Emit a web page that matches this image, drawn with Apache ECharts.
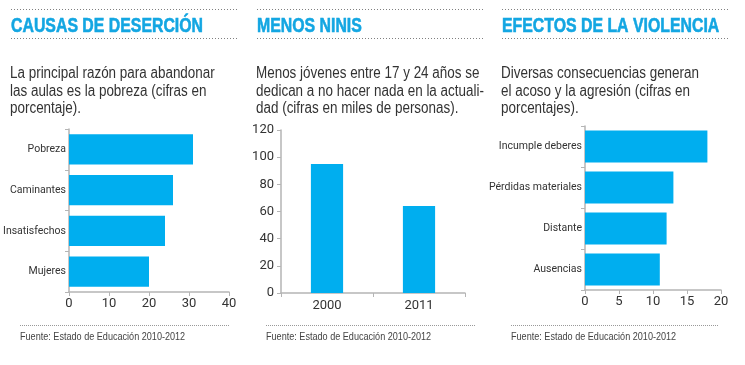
<!DOCTYPE html>
<html><head><meta charset="utf-8">
<script src="https://cdn.jsdelivr.net/npm/echarts@6/dist/echarts.min.js"></script>
<style>html,body{margin:0;padding:0;background:#fff}#c{width:745px;height:365px}</style>
</head><body><div id="c"></div>
<script>
const causasCats = ['Pobreza', 'Caminantes', 'Insatisfechos', 'Mujeres'];
const causasVals = [31, 26, 24, 20];
const causasTicks = [0, 10, 20, 30, 40];
const ninisCats = ['2000', '2011'];
const ninisVals = [95, 64];
const ninisTicks = [0, 20, 40, 60, 80, 100, 120];
const efectosCats = ['Incumple deberes', 'Pérdidas materiales', 'Distante', 'Ausencias'];
const efectosVals = [18, 13, 12, 11];
const efectosTicks = [0, 5, 10, 15, 20];
const titles = ['CAUSAS DE DESERCIÓN', 'MENOS NINIS', 'EFECTOS DE LA VIOLENCIA'];
const subtitles = [
  'La principal razón para abandonar\nlas aulas es la pobreza (cifras en\nporcentaje).',
  'Menos jóvenes entre 17 y 24 años se\ndedican a no hacer nada en la actuali-\ndad (cifras en miles de personas).',
  'Diversas consecuencias generan\nel acoso y la agresión (cifras en\nporcentajes).'
];
const source = 'Fuente: Estado de Educación 2010-2012';

const GFONT = "'Liberation Sans','Arial',sans-serif";
const AFONT = "'Liberation Sans Narrow','Roboto','Liberation Sans',sans-serif";
const BAR = '#00AEEF';
const AX = '#b5b5b5';
const TXT = '#333333';
const TITLE = '#13A6E2';

const panelX = [11, 257, 502];
const topLineEnd = [237, 483, 728];
const footX = [20, 266, 511];
const footEnd = [229, 475, 719];

const graphic = [];
for (let i = 0; i < 3; i++) {
  graphic.push({type: 'line', shape: {x1: panelX[i], y1: 9.5, x2: topLineEnd[i], y2: 9.5}, style: {stroke: '#808080', lineWidth: 1, lineDash: [1, 2]}, silent: true});
  graphic.push({type: 'line', shape: {x1: panelX[i], y1: 38.5, x2: topLineEnd[i], y2: 38.5}, style: {stroke: '#808080', lineWidth: 1, lineDash: [1, 2]}, silent: true});
  graphic.push({type: 'text', x: panelX[i], y: 15.5, scaleX: 0.755, style: {text: titles[i], fontFamily: GFONT, fontSize: 21, fontWeight: 'bold', fill: TITLE, stroke: TITLE, lineWidth: 0.6, align: 'left', verticalAlign: 'top'}, silent: true});
  graphic.push({type: 'text', x: panelX[i] - 1, y: 65, scaleX: 0.84, style: {text: subtitles[i], fontFamily: GFONT, fontSize: 16, lineHeight: 17.5, fill: TXT, align: 'left', verticalAlign: 'top'}, silent: true});
  graphic.push({type: 'line', shape: {x1: footX[i], y1: 325.5, x2: footEnd[i], y2: 325.5}, style: {stroke: '#999999', lineWidth: 1, lineDash: [1, 1]}, silent: true});
  graphic.push({type: 'text', x: footX[i], y: 331, scaleX: 0.79, style: {text: source, fontFamily: GFONT, fontSize: 11.5, fill: '#444', align: 'left', verticalAlign: 'top'}, silent: true});
}

function valueAxis(idx, max, interval, extra) {
  return Object.assign({
    type: 'value', gridIndex: idx, min: 0, max: max, interval: interval,
    axisLine: {show: true, lineStyle: {color: AX, width: 1.5}},
    axisTick: {show: true, length: 4, lineStyle: {color: AX}},
    splitLine: {show: false},
    axisLabel: {color: TXT, fontFamily: AFONT, fontSize: 13, margin: 5}
  }, extra || {});
}
function catAxis(idx, data, extra) {
  return Object.assign({
    type: 'category', gridIndex: idx, data: data,
    axisLine: {show: true, lineStyle: {color: AX, width: 1.5}},
    axisTick: {show: true, length: 4, lineStyle: {color: AX}},
    axisLabel: {color: TXT, fontFamily: AFONT, fontSize: 10.5, margin: 3}
  }, extra || {});
}

const option = {
  animation: false,
  backgroundColor: '#ffffff',
  grid: [
    {left: 69, top: 129, width: 160, height: 163, containLabel: false, outerBoundsMode: 'none'},
    {left: 281, top: 130, width: 184, height: 163, containLabel: false, outerBoundsMode: 'none'},
    {left: 585, top: 126, width: 136, height: 164, containLabel: false, outerBoundsMode: 'none'}
  ],
  xAxis: [
    valueAxis(0, causasTicks[causasTicks.length - 1], causasTicks[1] - causasTicks[0]),
    catAxis(1, ninisCats, {axisLabel: {color: TXT, fontFamily: AFONT, fontSize: 13, margin: 6}}),
    valueAxis(2, efectosTicks[efectosTicks.length - 1], efectosTicks[1] - efectosTicks[0])
  ],
  yAxis: [
    catAxis(0, causasCats, {inverse: true}),
    valueAxis(1, ninisTicks[ninisTicks.length - 1], ninisTicks[1] - ninisTicks[0], {axisLabel: {color: TXT, fontFamily: AFONT, fontSize: 13, margin: 7}}),
    catAxis(2, efectosCats, {inverse: true})
  ],
  series: [
    {type: 'bar', xAxisIndex: 0, yAxisIndex: 0, data: causasVals, barCategoryGap: '26%', itemStyle: {color: BAR}},
    {type: 'bar', xAxisIndex: 1, yAxisIndex: 1, data: ninisVals, barCategoryGap: '65%', itemStyle: {color: BAR}},
    {type: 'bar', xAxisIndex: 2, yAxisIndex: 2, data: efectosVals, barCategoryGap: '22%', itemStyle: {color: BAR}}
  ],
  graphic: graphic
};
const chart = echarts.init(document.getElementById('c'), null, {renderer: 'canvas'});
chart.setOption(option);
</script>
</body></html>
